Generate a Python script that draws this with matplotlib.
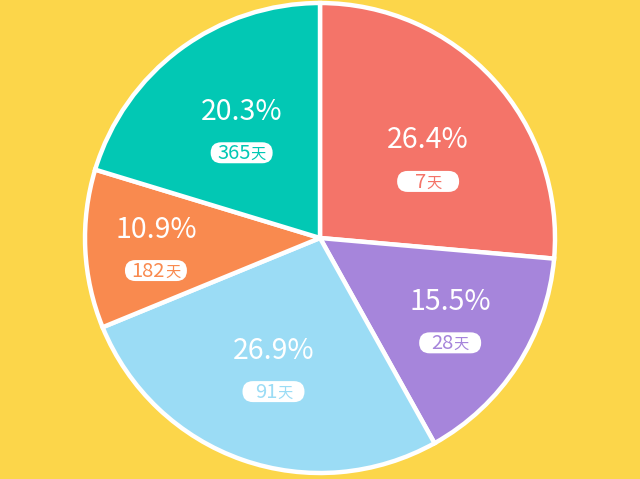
import numpy as np
import matplotlib
matplotlib.use("Agg")
import matplotlib.pyplot as plt
from matplotlib.patches import FancyBboxPatch
from matplotlib.offsetbox import TextArea, HPacker, AnnotationBbox

plt.rcParams['font.family'] = ['Noto Sans CJK SC', 'DejaVu Sans']

# data
shares = [26.4, 15.5, 26.9, 10.9, 20.3]
days = [7, 28, 91, 182, 365]
day_unit = "天"
colors = ["#F47469", "#A685DB", "#9BDCF5", "#F98A4F", "#02C8B4"]
bg = "#FCD64A"

# style: radial position / angular nudge of each label group
label_r = [0.565, 0.66, 0.60, 0.70, 0.56]
label_dang = [-7.0, 0.0, 0.0, 1.5, 0.0]

R = 235
fig = plt.figure(figsize=(6.4, 4.79), dpi=100, facecolor=bg)
ax = fig.add_axes([0, 0, 1, 1])
ax.set_facecolor(bg)

wedges, _ = ax.pie(shares, colors=colors, startangle=90, counterclock=False,
                   radius=R, center=(0, 0),
                   wedgeprops=dict(edgecolor='white', linewidth=3.2))
ax.set_xlim(-320, 320)
ax.set_ylim(-241, 238)
ax.set_aspect('equal')
ax.axis('off')

for w, s, d, c, fr, da in zip(wedges, shares, days, colors, label_r, label_dang):
    mid = np.deg2rad((w.theta1 + w.theta2) / 2 + da)
    gx = fr * R * np.cos(mid)
    gy = fr * R * np.sin(mid)
    ax.text(gx, gy + 20.5, f"{s:.1f}%", color='white', fontsize=20.5,
            ha='center', va='center')
    bw, bh = 62, 21
    pill = FancyBboxPatch((gx - bw / 2, gy - 20.5 - bh / 2), bw, bh,
                          boxstyle=f"round,pad=0,rounding_size={bh/2}",
                          facecolor='white', edgecolor='none', zorder=3)
    ax.add_patch(pill)
    t1 = TextArea(str(d), textprops=dict(color=c, fontsize=14.5))
    t2 = TextArea(day_unit, textprops=dict(color=c, fontsize=11))
    pack = HPacker(children=[t1, t2], align='baseline', pad=0, sep=0)
    ab = AnnotationBbox(pack, (gx, gy - 21.5), frameon=False,
                        box_alignment=(0.5, 0.5), zorder=4)
    ax.add_artist(ab)

fig.savefig("out.png", dpi=100, facecolor=bg)
